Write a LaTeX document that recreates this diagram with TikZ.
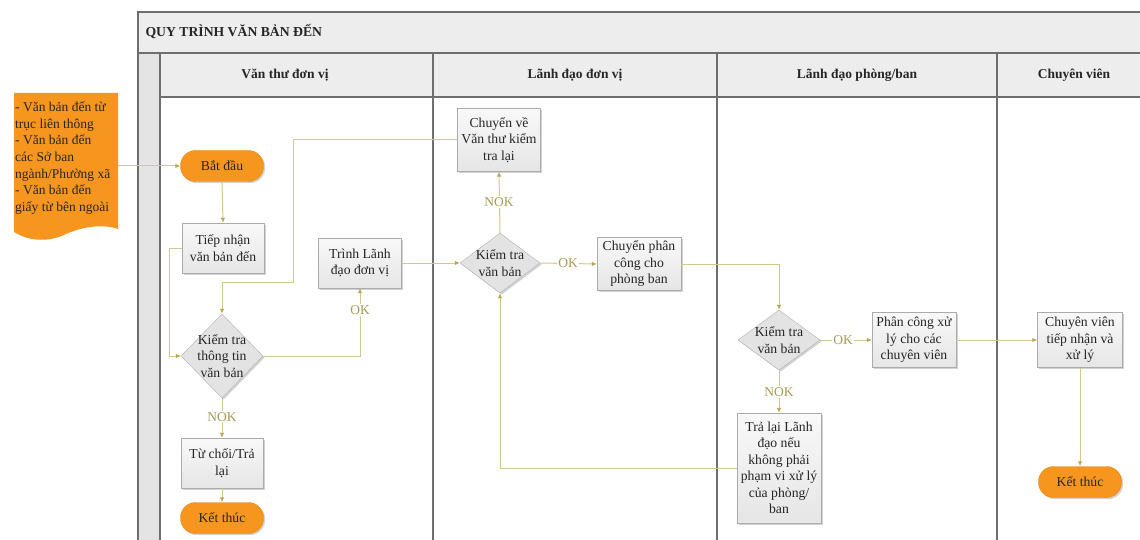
\documentclass[tikz,border=0pt]{standalone}
\usepackage{fontspec}
\setmainfont{Liberation Serif}
\usetikzlibrary{arrows.meta,shapes.geometric,shadows}

\definecolor{lanegray}{HTML}{EDEDED}
\definecolor{stripgray}{HTML}{E4E4E4}
\definecolor{frameline}{HTML}{6E6E6E}
\definecolor{flow}{HTML}{D2C88C}
\definecolor{flowtip}{HTML}{B8A850}
\definecolor{flowtext}{HTML}{A99B52}
\definecolor{orangefill}{HTML}{F7961F}
\definecolor{orangeedge}{HTML}{EC8A14}
\definecolor{boxedge}{HTML}{ABABAB}
\definecolor{ink}{HTML}{262626}

\tikzset{
  frameln/.style={draw=frameline,line width=1.1pt},
  softshadow/.style={drop shadow={shadow xshift=1.6pt,shadow yshift=-1.6pt,opacity=0.35,fill=gray}},
  stepbox/.style={rectangle,draw=boxedge,top color=gray!5,bottom color=gray!20,
    softshadow,align=center,inner sep=1pt,text=ink,font=\fontsize{13.7}{16.5}\selectfont},
  decision/.style={diamond,draw=boxedge!90,fill=gray!22,inner sep=0pt,softshadow},
  dectext/.style={align=center,inner sep=0pt,text=ink,font=\fontsize{13.7}{16.5}\selectfont},
  terminal/.style={rectangle,rounded corners=15pt,draw=orangeedge,fill=orangefill,
    softshadow,minimum width=83pt,minimum height=31pt,text=ink,font=\fontsize{13.7}{16}\selectfont},
  lanehead/.style={text=ink,font=\bfseries\fontsize{13.5}{15}\selectfont},
  flowlabel/.style={fill=white,inner sep=1pt,text=flowtext,font=\fontsize{13.5}{15}\selectfont},
  arr/.style={draw=flow,line width=1pt,-{Latex[length=5pt,width=4.5pt,color=flowtip]}}
}

\begin{document}
\begin{tikzpicture}[x=1pt,y=-1pt]
\useasboundingbox (0,0) rectangle (1140,540);

% ---- swimlane frame ----
\fill[lanegray] (138,12) rectangle (1140,53);
\fill[stripgray] (138,53) rectangle (160,540);
\fill[lanegray] (160,53) rectangle (1140,97);
\fill[white] (160,97) rectangle (1140,540);
\draw[frameln] (1140,12) -- (138,12) -- (138,540);
\draw[frameln] (138,53) -- (1140,53);
\draw[frameln] (160,97) -- (1140,97);
\draw[frameln] (160,53) -- (160,540);
\draw[frameln] (433,53) -- (433,540);
\draw[frameln] (717,53) -- (717,540);
\draw[frameln] (997,53) -- (997,540);

\node[lanehead,anchor=west,font=\bfseries\fontsize{13.7}{15}\selectfont] (title) at (142,32) {QUY TRÌNH VĂN BẢN ĐẾN};
\node[lanehead] (lane1) at (285,75) {Văn thư đơn vị};
\node[lanehead] (lane2) at (575,75) {Lãnh đạo đơn vị};
\node[lanehead] (lane3) at (857,75) {Lãnh đạo phòng/ban};
\node[lanehead] (lane4) at (1074,75) {Chuyên viên};

% ---- incoming documents (document shape) ----
\fill[orangefill] (14,93) -- (118,93) -- (118,229)
  .. controls (104,224) and (84,226) .. (66,234)
  .. controls (50,242) and (30,242) .. (14,232) -- cycle;
\node[anchor=west,align=left,inner sep=0pt,text=ink,font=\fontsize{13.5}{16.7}\selectfont] (doc) at (15,158)
  {- Văn bản đến từ\\trục liên thông\\- Văn bản đến\\các Sở ban\\ngành/Phường xã\\- Văn bản đến\\giấy từ bên ngoài};
\coordinate (docR) at (118,166);

% ---- lane 1: Văn thư đơn vị ----
\node[terminal] (start) at (222,166) {Bắt đầu};
\node[stepbox,minimum width=82pt,minimum height=50pt] (recv) at (223,248) {Tiếp nhận\\văn bản đến};
\node[decision,minimum width=82pt,minimum height=84pt] (chk1) at (222,356) {};
\node[dectext] at (chk1) {Kiểm tra\\thông tin\\văn bản};
\node[stepbox,minimum width=83pt,minimum height=50pt] (present) at (360,263) {Trình Lãnh\\đạo đơn vị};
\node[stepbox,minimum width=82pt,minimum height=50pt] (reject) at (222,463) {Từ chối/Trả\\lại};
\node[terminal] (end1) at (222,518) {Kết thúc};

% ---- lane 2: Lãnh đạo đơn vị ----
\node[stepbox,minimum width=83pt,minimum height=63pt] (back) at (499,140) {Chuyển về\\Văn thư kiểm\\tra lại};
\node[decision,minimum width=80pt,minimum height=60pt] (chk2) at (500,263) {};
\node[dectext] at (chk2) {Kiểm tra\\văn bản};
\node[stepbox,minimum width=84pt,minimum height=53pt] (assign) at (639,264) {Chuyển phân\\công cho\\phòng ban};

% ---- lane 3: Lãnh đạo phòng/ban ----
\node[decision,minimum width=82pt,minimum height=60pt] (chk3) at (779,340) {};
\node[dectext] at (chk3) {Kiểm tra\\văn bản};
\node[stepbox,minimum width=84pt,minimum height=55pt] (alloc) at (914,340) {Phân công xử\\lý cho các\\chuyên viên};
\node[stepbox,minimum width=84pt,minimum height=110pt] (ret) at (779,468)
  {Trả lại Lãnh\\đạo nếu\\không phải\\phạm vi xử lý\\của phòng/\\ban};

% ---- lane 4: Chuyên viên ----
\node[stepbox,minimum width=85pt,minimum height=55pt] (staff) at (1080,340) {Chuyên viên\\tiếp nhận và\\xử lý};
\node[terminal] (end2) at (1080,482) {Kết thúc};

% ---- connectors ----
\draw[arr] (docR) -- (start.west);
\draw[arr] (start.south) -- (recv.north);
\draw[arr] (recv.west) -- ++(-12,0) |- (chk1.west);
\draw[arr] (back.west) -| (293,282) -| (chk1.north);
\draw[arr] (chk1.east) -| (present.south);
\draw[arr] (chk1.south) -- (reject.north);
\draw[arr] (reject.south) -- (end1.north);
\draw[arr] (present.east) -- (chk2.west);
\draw[arr] (chk2.north) -- (back.south);
\draw[arr] (chk2.east) -- (assign.west);
\draw[arr] (assign.east) -| (chk3.north);
\draw[arr] (chk3.east) -- (alloc.west);
\draw[arr] (chk3.south) -- (ret.north);
\draw[arr] (ret.west) -| (chk2.south);
\draw[arr] (alloc.east) -- (staff.west);
\draw[arr] (staff.south) -- (end2.north);

% ---- branch labels ----
\node[flowlabel] (ok1) at (360,310) {OK};
\node[flowlabel] (nok1) at (222,417) {NOK};
\node[flowlabel] (nok2) at (499,202) {NOK};
\node[flowlabel] (ok2) at (568,263) {OK};
\node[flowlabel] (ok3) at (843,340) {OK};
\node[flowlabel] (nok3) at (779,392) {NOK};
\end{tikzpicture}
\end{document}
